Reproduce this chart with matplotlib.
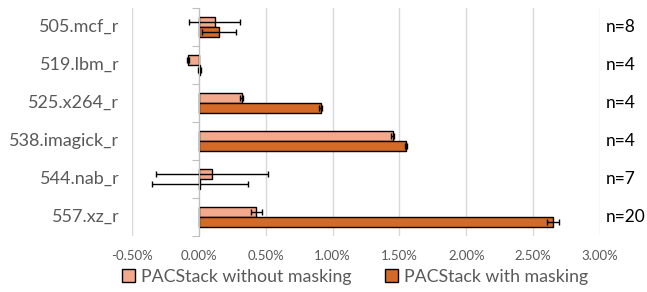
import matplotlib.pyplot as plt
import numpy as np

benchmarks = ["505.mcf_r", "519.lbm_r", "525.x264_r", "538.imagick_r", "544.nab_r", "557.xz_r"]
runs = ["n=8", "n=4", "n=4", "n=4", "n=7", "n=20"]
# overhead in percent
no_mask = [0.12, -0.08, 0.32, 1.45, 0.10, 0.43]
no_mask_err = [0.19, 0.01, 0.01, 0.01, 0.42, 0.04]
mask = [0.15, 0.005, 0.91, 1.55, 0.01, 2.65]
mask_err = [0.13, 0.01, 0.01, 0.01, 0.36, 0.045]
xticks = [-0.5, 0.0, 0.5, 1.0, 1.5, 2.0, 2.5, 3.0]

light = "#F3A98B"
dark = "#D46A28"
grey = "#595959"
plt.rcParams['font.family'] = ['Lato', 'DejaVu Sans']

fig = plt.figure(figsize=(6.47, 2.92), dpi=100)
ax = fig.add_axes([132/647, 1-236/292, 468/647, 228/292])

y = np.arange(len(benchmarks))
h = 0.27
ekw = dict(ecolor="black", elinewidth=1, capsize=2.2, capthick=1)
ax.barh(y - h/2, no_mask, h, xerr=no_mask_err, color=light, edgecolor="black",
        linewidth=1, error_kw=ekw, label="PACStack without masking", zorder=3)
ax.barh(y + h/2, mask, h, xerr=mask_err, color=dark, edgecolor="black",
        linewidth=1, error_kw=ekw, label="PACStack with masking", zorder=3)

ax.set_xlim(-0.5, 3.0)
ax.set_ylim(len(benchmarks) - 0.5, -0.5)
ax.set_xticks(xticks)
ax.set_xticklabels(["%.2f%%" % v for v in xticks], color=grey, fontsize=9.5)
ax.tick_params(axis='x', length=0, pad=10)
ax.grid(axis='x', color="#D9D9D9", linewidth=1, zorder=0)

for s in ["top", "right", "bottom"]:
    ax.spines[s].set_visible(False)
ax.spines['left'].set_position(('data', 0))
ax.spines['left'].set_color("#BFBFBF")
ax.spines['left'].set_zorder(4)
ax.set_yticks(np.arange(len(benchmarks) + 1) - 0.5)
ax.set_yticklabels([])
ax.tick_params(axis='y', length=5, color="#BFBFBF", direction='out')

for i, (b, n) in enumerate(zip(benchmarks, runs)):
    ax.text(-0.027, i, b, transform=ax.get_yaxis_transform(), ha='right',
            va='center', fontsize=13, color=grey)
    ax.text(1.013, i, n, transform=ax.get_yaxis_transform(), ha='left',
            va='center', fontsize=12.5, color="black")

leg = fig.legend(loc='lower center', bbox_to_anchor=(0.549, -0.03), ncol=2, frameon=False,
                 fontsize=12.8, handlelength=0.7, handleheight=0.7, handletextpad=0.35,
                 columnspacing=1.9)
for t in leg.get_texts():
    t.set_color(grey)

fig.savefig("out.png", dpi=100)
